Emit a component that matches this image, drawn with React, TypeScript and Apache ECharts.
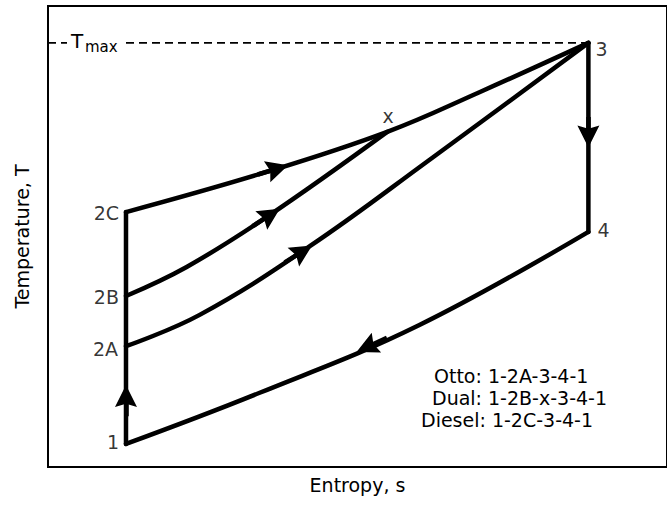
import React, { useEffect, useRef } from 'react';
import * as echarts from 'echarts';

// ---- data (s and T in arbitrary units, 0..100) ----
const stateNames = ['1', '2A', '2B', '2C', '3', '4', 'x'];
const stateS = [12.6, 12.6, 12.6, 12.6, 87.3, 87.3, 54.8];
const stateT = [5.0, 26.2, 37.1, 55.3, 92.0, 51.0, 72.7];

// Diesel heat addition 2C -> x -> 3
const dieselS = [12.6, 35.3, 54.8, 69.7, 87.3];
const dieselT = [55.3, 64.0, 72.7, 81.3, 92.0];
// Dual heat addition 2B -> x
const dualS = [12.6, 22.4, 35.3, 54.8];
const dualT = [37.1, 43.4, 54.2, 72.7];
// Otto heat addition 2A -> 3
const ottoS = [12.6, 24.5, 42.3, 61.6, 87.3];
const ottoT = [26.2, 33.0, 47.9, 66.6, 92.0];
// Heat rejection 4 -> 1
const rejectS = [87.3, 60.0, 34.2, 12.6];
const rejectT = [51.0, 30.8, 16.1, 5.0];
// Compression 1 -> 2C and expansion 3 -> 4
const compressionS = [12.6, 12.6];
const compressionT = [5.0, 55.3];
const expansionS = [87.3, 87.3];
const expansionT = [92.0, 51.0];

const tMax = 92.0;

// arrowheads: tail and tip along the process lines
const arrowTailS = [12.6, 87.3, 35.5, 34.5, 39.7, 53.1];
const arrowTailT = [13.2, 73.8, 64.1, 53.5, 45.6, 27.0];
const arrowTipS = [12.6, 87.3, 38.7, 37.4, 42.6, 49.8];
const arrowTipT = [17.6, 69.6, 65.4, 56.0, 48.0, 24.9];

const cycleTexts = ['Otto: 1-2A-3-4-1', 'Dual: 1-2B-x-3-4-1', 'Diesel: 1-2C-3-4-1'];

const xTitle = 'Entropy, s';
const yTitle = 'Temperature, T';

// ---- styling ----
const FONT = 'DejaVu Sans';
const INK = '#000';
const LW = 4.5;

const zip = (a: number[], b: number[]) => a.map((v, i) => [v, b[i]]);

const labelPlacement: Record<string, any> = {
  '1': { position: 'left', distance: 7, offset: [0, -2] },
  '2A': { position: 'left', distance: 8, offset: [0, 3] },
  '2B': { position: 'left', distance: 7, offset: [0, 1] },
  '2C': { position: 'left', distance: 7, offset: [0, 1] },
  '3': { position: 'right', distance: 7, offset: [0, 6] },
  '4': { position: 'right', distance: 9, offset: [0, -2] },
  x: { position: 'inside', distance: 0, offset: [1, -16] },
};

const textPlacement = [
  { x: 434, y: 376 },
  { x: 432, y: 398 },
  { x: 421, y: 420 },
];

function processLine(name: string, s: number[], t: number[], smooth: number | boolean) {
  return {
    type: 'line',
    name,
    data: zip(s, t),
    smooth,
    symbol: 'none',
    lineStyle: { color: INK, width: LW, cap: 'round', join: 'round' },
    z: 3,
  };
}

export default function App() {
  const ref = useRef<HTMLDivElement>(null);
  useEffect(() => {
    const chart = echarts.init(ref.current!, null, { renderer: 'svg' });

    const arrowData = arrowTailS.map((_, i) => {
      const ts = arrowTailS[i], tt = arrowTailT[i];
      const ps = arrowTipS[i], pt = arrowTipT[i];
      const cs = (ts + ps) / 2, ct = (tt + pt) / 2;
      return { coords: [[ts - (ps - ts) * 0.5, tt - (pt - tt) * 0.5], [cs, ct]] };
    });

    const option: any = {
      animation: false,
      backgroundColor: '#fff',
      grid: {
        left: 48,
        top: 6,
        width: 620,
        height: 461,
        show: true,
        borderColor: INK,
        borderWidth: 2,
        backgroundColor: 'transparent',
      },
      xAxis: {
        type: 'value',
        min: 0,
        max: 100,
        axisLine: { show: false },
        axisTick: { show: false },
        axisLabel: { show: false },
        splitLine: { show: false },
        name: xTitle,
        nameLocation: 'middle',
        nameGap: 8,
        nameTextStyle: { fontFamily: FONT, fontSize: 19, color: INK, verticalAlign: 'top' },
      },
      yAxis: {
        type: 'value',
        min: 0,
        max: 100,
        axisLine: { show: false },
        axisTick: { show: false },
        axisLabel: { show: false },
        splitLine: { show: false },
        name: yTitle,
        nameLocation: 'middle',
        nameGap: 17,
        nameTextStyle: { fontFamily: FONT, fontSize: 19, color: INK },
      },
      series: [
        {
          type: 'line',
          name: 'Tmax',
          data: [[0, tMax], [stateS[4], tMax]],
          symbol: 'none',
          lineStyle: { color: INK, width: 1.6, type: [8, 5] },
          z: 2,
        },
        processLine('compression', compressionS, compressionT, false),
        processLine('expansion', expansionS, expansionT, false),
        processLine('diesel', dieselS, dieselT, 0.4),
        processLine('dual', dualS, dualT, 0.4),
        processLine('otto', ottoS, ottoT, 0.4),
        processLine('reject', rejectS, rejectT, 0.4),
        {
          type: 'lines',
          coordinateSystem: 'cartesian2d',
          data: arrowData,
          symbol: ['none', 'path://M10,0L20,20L10,17L0,20Z'],
          symbolSize: 22,
          lineStyle: { color: INK, width: LW, opacity: 1, curveness: 0 },
          z: 4,
        },
        {
          type: 'scatter',
          symbolSize: 0,
          data: stateNames.map((n, i) => ({
            name: n,
            value: [stateS[i], stateT[i]],
            label: { ...labelPlacement[n] },
          })),
          label: {
            show: true,
            formatter: '{b}',
            fontFamily: FONT,
            fontSize: 19,
            color: INK,
          },
          z: 5,
        },
      ],
      graphic: [
        {
          type: 'rect',
          z: 10,
          shape: { x: 67, y: 37, width: 54, height: 12 },
          style: { fill: '#fff' },
        },
        {
          type: 'text',
          z: 11,
          x: 71,
          y: 40.5,
          style: { text: 'T', font: `20px "${FONT}"`, fill: INK, textAlign: 'left', textVerticalAlign: 'middle' },
        },
        {
          type: 'text',
          z: 11,
          x: 85,
          y: 47,
          style: { text: 'max', font: `15px "${FONT}"`, fill: INK, textAlign: 'left', textVerticalAlign: 'middle' },
        },
        ...cycleTexts.map((t, i) => ({
          type: 'text',
          z: 11,
          x: textPlacement[i].x,
          y: textPlacement[i].y,
          style: { text: t, font: `19px "${FONT}"`, fill: INK, textAlign: 'left', textVerticalAlign: 'middle' },
        })),
      ],
    };

    chart.setOption(option);
    return () => chart.dispose();
  }, []);
  return <div ref={ref} style={{ position: 'fixed', left: 0, top: 0, width: 667, height: 505 }} />;
}
